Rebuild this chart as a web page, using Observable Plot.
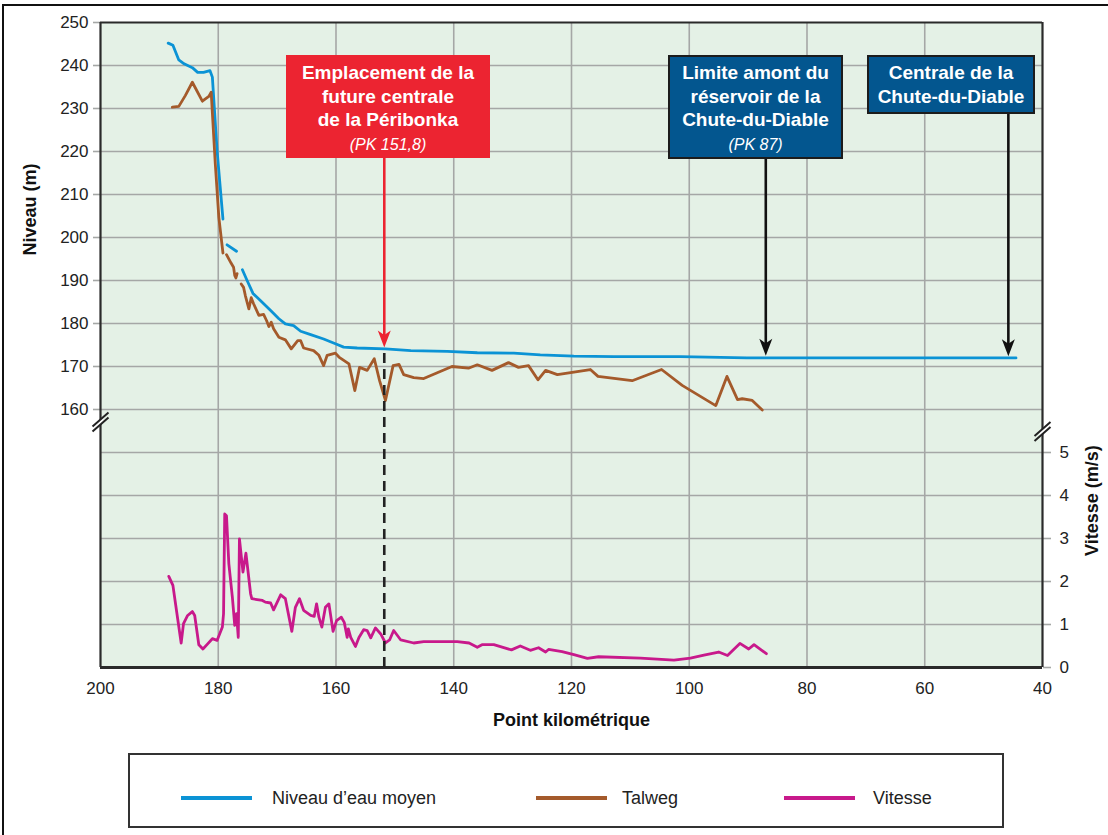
<!DOCTYPE html>
<html>
<head>
<meta charset="utf-8">
<script src="https://cdn.jsdelivr.net/npm/d3@7"></script>
<script src="https://cdn.jsdelivr.net/npm/@observablehq/plot@0.6"></script>
<style>
  html, body { margin: 0; padding: 0; background: #fff; }
  body { font-family: "Liberation Sans", Arial, sans-serif; }
  #wrap { position: relative; width: 1108px; height: 835px; overflow: hidden; }
  #outer { position: absolute; left: 2px; top: 4px; width: 1300px; height: 1000px;
           border-left: 2px solid #111; border-top: 2px solid #111; }
  #chart { position: absolute; left: 0; top: 0; }
  .box { position: absolute; box-sizing: border-box; color: #fff; font-weight: bold;
         font-size: 19px; line-height: 23.5px; text-align: center; padding-top: 6px; }
  .box i { font-weight: normal; font-size: 16px; }
  .red { background: #ec2431; }
  .blue { background: #03568f; border: 2px solid #1c1c1c; padding-top: 4px; }
  #legend { position: absolute; left: 128px; top: 753px; width: 876px; height: 75px;
            box-sizing: border-box; border: 2px solid #333; background: #fff; }
  .sw { position: absolute; height: 4px; top: 41px; }
  .lt { position: absolute; top: 31px; font-size: 18px; color: #222; line-height: 24px; }
</style>
</head>
<body>
<div id="wrap">
  <div id="outer"></div>
  <div id="chart"></div>
  <div class="box red" style="left:286px;top:55px;width:204px;height:103px;">Emplacement de la<br>future centrale<br>de la Péribonka<br><i>(PK 151,8)</i></div>
  <div class="box blue" style="left:668px;top:55px;width:175px;height:104px;">Limite amont du<br>réservoir de la<br>Chute-du-Diable<br><i>(PK 87)</i></div>
  <div class="box blue" style="left:867px;top:55px;width:168px;height:59px;">Centrale de la<br>Chute-du-Diable</div>
  <div id="legend">
    <div class="sw" style="left:51px;width:71px;background:#0b93d5;"></div>
    <div class="lt" style="left:142px;">Niveau d’eau moyen</div>
    <div class="sw" style="left:406px;width:71px;background:#a45a2b;"></div>
    <div class="lt" style="left:492px;">Talweg</div>
    <div class="sw" style="left:654px;width:71px;background:#c8198b;"></div>
    <div class="lt" style="left:743px;">Vitesse</div>
  </div>
</div>
<script>
// ---------- data ----------
const pkTicks = [200, 180, 160, 140, 120, 100, 80, 60, 40];
const niveauTicks = [160, 170, 180, 190, 200, 210, 220, 230, 240, 250];
const vitesseTicks = [0, 1, 2, 3, 4, 5];

// Niveau d'eau moyen (PK, m) — NaN marks a gap in the line
const niveauPK = [188.5, 187.7, 186.7, 185.8, 184.4, 183.5, 182.5, 181.4, 181.0, 180.2, 179.2,
  179.0, 178.5, 176.9,
  176.4, 175.9, 175.1, 174.1, 172.8, 171.1, 169.7, 168.6, 167.2, 166.0, 164.3, 162.1, 160.1,
  158.7, 156.4, 151.6, 147.3, 141.1, 136.0, 129.8, 125.3, 119.6, 112.8, 101.5, 90.2, 77.7, 44.5];
const niveauM = [245.2, 244.7, 241.3, 240.4, 239.5, 238.4, 238.4, 238.8, 237.3, 220.2, 204.3,
  NaN, 198.3, 196.8,
  NaN, 192.5, 190.0, 187.0, 185.3, 183.0, 181.1, 179.9, 179.5, 178.2, 177.4, 176.4, 175.3,
  174.5, 174.3, 174.1, 173.7, 173.5, 173.2, 173.1, 172.7, 172.4, 172.3, 172.3, 172.0, 172.0, 172.0];

// Talweg (PK, m)
const talwegPK = [187.8, 186.7, 185.6, 184.4, 182.7, 181.6, 181.2, 180.5, 179.9, 179.2,
  178.9, 178.6, 177.8, 177.4, 177.2, 177.0, 176.8,
  176.5, 176.1, 175.7, 175.4, 174.8, 174.4, 174.0, 173.1, 172.3, 171.8, 171.4, 171.0, 170.6,
  169.7, 168.6, 167.6, 166.5, 166.0, 165.5, 163.8, 162.9, 162.1, 161.5, 160.1, 159.5, 157.8,
  156.8, 156.0, 154.7, 153.5, 152.6, 151.6, 150.3, 149.3, 148.5, 146.8, 145.1, 140.3, 137.5,
  136.0, 133.5, 130.7, 129.0, 127.3, 125.7, 124.4, 122.4, 116.8, 115.5, 109.7, 104.7, 101.2,
  95.5, 93.6, 91.8, 91.0, 89.3, 87.6];
const talwegM = [230.3, 230.5, 233.0, 236.1, 231.7, 232.8, 233.8, 217.1, 204.7, 196.4,
  NaN, 196.0, 194.0, 193.1, 191.2, 190.6, 191.6,
  NaN, 189.2, 188.4, 186.5, 183.4, 186.0, 184.6, 181.9, 182.1, 180.7, 179.3, 180.3, 178.8,
  176.8, 176.2, 174.1, 176.0, 176.0, 174.3, 173.7, 172.6, 170.2, 172.6, 173.1, 172.2, 170.6,
  164.4, 169.8, 169.1, 171.8, 166.7, 162.1, 170.2, 170.5, 168.1, 167.4, 167.2, 170.0, 169.6,
  170.4, 169.1, 170.9, 169.8, 170.2, 166.9, 169.1, 168.1, 169.3, 167.7, 166.7, 169.3, 165.6,
  160.9, 167.7, 162.3, 162.5, 162.1, 159.9];

// Vitesse (PK, m/s)
const vitessePK = [188.4, 187.7, 187.1, 186.3, 185.9, 185.2, 184.4, 184.0, 183.3, 182.6, 181.8,
  181.0, 180.2, 179.3, 179.1, 178.9, 178.6, 178.2, 177.6, 177.2, 176.9, 176.6, 176.4, 175.8,
  175.3, 174.5, 174.3, 173.4, 172.5, 172.0, 171.1, 170.6, 169.4, 168.6, 167.5, 166.9, 166.2,
  165.5, 164.3, 163.7, 163.3, 162.9, 162.4, 161.8, 161.2, 160.5, 159.9, 159.1, 158.6, 158.1,
  157.9, 157.5, 156.7, 156.1, 155.3, 154.7, 154.1, 153.3, 152.4, 151.6, 150.9, 150.2, 149.0,
  146.8, 145.1, 141.1, 139.4, 137.4, 136.0, 135.2, 133.2, 130.2, 128.7, 127.0, 125.6, 124.4,
  123.9, 121.6, 119.6, 117.3, 115.4, 108.3, 102.6, 99.8, 97.5, 95.0, 93.5, 91.4, 89.9, 89.0, 86.9];
const vitesseMS = [2.12, 1.91, 1.33, 0.57, 1.02, 1.21, 1.30, 1.21, 0.53, 0.43, 0.55,
  0.67, 0.63, 0.94, 1.25, 3.57, 3.53, 2.41, 1.63, 0.98, 1.25, 0.70, 2.99, 2.22,
  2.66, 1.71, 1.60, 1.58, 1.56, 1.52, 1.50, 1.34, 1.69, 1.60, 0.84, 1.40, 1.60,
  1.33, 1.21, 1.19, 1.48, 1.17, 0.94, 1.40, 1.48, 0.84, 1.09, 1.17, 1.05, 0.70,
  0.90, 0.70, 0.49, 0.70, 0.88, 0.86, 0.69, 0.92, 0.78, 0.57, 0.64, 0.86, 0.64,
  0.57, 0.60, 0.60, 0.60, 0.57, 0.47, 0.53, 0.53, 0.41, 0.50, 0.40, 0.46, 0.36,
  0.42, 0.37, 0.30, 0.21, 0.25, 0.22, 0.17, 0.22, 0.29, 0.36, 0.28, 0.56, 0.43, 0.53, 0.32];

// Annotated points (PK)
const pkPeribonka = 151.8;
const pkLimiteAmont = 87;
const pkCentrale = 45.8;

// ---------- layout / style ----------
const W = 1108, H = 740;
const mL = 100, mR = 66, mT = 22, mB = 73;
const BG = "#e4f1e6", GRID = "#a5a7a6", FRAME = "#2a2a2a";
const BLUE = "#0b93d5", BROWN = "#a45a2b", MAGENTA = "#c8198b", RED = "#ec2431";
const FONT = "'Liberation Sans', Arial, Helvetica, sans-serif";

// Broken axis: velocity v is drawn at level VBASE + VSCALE * v on the shared vertical scale
const VBASE = 100, VSCALE = 10;
const toLevel = v => VBASE + VSCALE * v;
const yScale = Plot.scale({y: {domain: [VBASE, 250], range: [H - mB, mT]}});

const idx = arr => arr.map((_, i) => i);

const arrowHead = {draw(ctx) {
  ctx.moveTo(0, 0); ctx.lineTo(-6.5, -17); ctx.lineTo(0, -12.5); ctx.lineTo(6.5, -17); ctx.closePath();
}};
const breakGap = {draw(ctx) {
  ctx.moveTo(-3, 0.6); ctx.lineTo(3, -4.6); ctx.lineTo(3, 0.4); ctx.lineTo(-3, 5.6); ctx.closePath();
}};
const breakLines = {draw(ctx) {
  ctx.moveTo(-8, 5); ctx.lineTo(8, -9); ctx.moveTo(-8, 10); ctx.lineTo(8, -4);
}};

const boxBottom1 = yScale.invert(158);   // bottom of 4-line boxes
const boxBottom2 = yScale.invert(113);   // bottom of 2-line box
const breaks = [{x: 200, y: 157.2}, {x: 40, y: 155.0}];

const arrows = [
  {x: pkPeribonka, y1: boxBottom1, tip: 174.4, color: RED},
  {x: pkLimiteAmont, y1: boxBottom1, tip: 172.5, color: "#111"},
  {x: pkCentrale, y1: boxBottom2, tip: 172.4, color: "#111"}
];

const chart = Plot.plot({
  width: W, height: H,
  marginLeft: mL, marginRight: mR, marginTop: mT, marginBottom: mB,
  x: {domain: [200, 40]},
  y: {domain: [VBASE, 250]},
  style: {fontFamily: FONT, background: "transparent", overflow: "visible", color: "#222"},
  marks: [
    Plot.frame({fill: BG, stroke: "none"}),
    // grid
    Plot.ruleY(d3.range(VBASE + 10, 250, 10), {stroke: GRID, strokeWidth: 1.6}),
    Plot.ruleX(pkTicks.slice(1, -1), {stroke: GRID, strokeWidth: 1.6}),
    // axes
    Plot.axisX({ticks: pkTicks, tickSize: 0, tickPadding: 14, fontSize: 17, label: null, fill: "#222"}),
    Plot.axisY({ticks: niveauTicks, anchor: "left", tickSize: 7, tickPadding: 5, fontSize: 17,
      stroke: GRID, strokeWidth: 1.6, fill: "#222", label: null}),
    Plot.axisY({ticks: vitesseTicks.map(toLevel), anchor: "right", tickSize: 8, tickPadding: 9,
      fontSize: 17, stroke: GRID, strokeWidth: 1.6, fill: "#222", label: null,
      tickFormat: d => String(Math.round((d - VBASE) / VSCALE))}),
    // frame
    Plot.ruleX([200, 40], {y1: VBASE, y2: 250, stroke: FRAME, strokeWidth: 2.2}),
    Plot.ruleY([250], {x1: 200, x2: 40, stroke: FRAME, strokeWidth: 2.2}),
    Plot.ruleY([VBASE], {x1: 200, x2: 40, stroke: FRAME, strokeWidth: 2.8}),
    // series
    Plot.line(idx(niveauPK), {x: i => niveauPK[i], y: i => niveauM[i], stroke: BLUE, strokeWidth: 2.8,
      strokeLinejoin: "round"}),
    Plot.line(idx(talwegPK), {x: i => talwegPK[i], y: i => talwegM[i], stroke: BROWN, strokeWidth: 2.8,
      strokeLinejoin: "round"}),
    Plot.line(idx(vitessePK), {x: i => vitessePK[i], y: i => toLevel(vitesseMS[i]), stroke: MAGENTA,
      strokeWidth: 2.8, strokeLinejoin: "round"}),
    // dashed marker line at future power plant
    Plot.ruleX([pkPeribonka], {y1: VBASE, y2: 173.6, stroke: "#222", strokeWidth: 2.6, strokeDasharray: "10,6"}),
    // annotation arrows
    Plot.ruleX(arrows, {x: "x", y1: "y1", y2: d => d.tip + 2, stroke: d => d.color, strokeWidth: 2.6}),
    Plot.dot(arrows, {x: "x", y: "tip", symbol: arrowHead, fill: d => d.color, stroke: "none"}),
    // axis breaks
    Plot.dot(breaks, {x: "x", y: "y", symbol: breakGap, fill: "#fff", stroke: "none"}),
    Plot.dot(breaks, {x: "x", y: "y", symbol: breakLines, fill: "none", stroke: "#222", strokeWidth: 2}),
    // axis titles
    Plot.text(["Point kilométrique"], {frameAnchor: "bottom", dy: 58, fontSize: 18, fontWeight: "bold", fill: "#111"}),
    Plot.text(["Niveau (m)"], {x: [200], y: [206.5], dx: -70, rotate: -90, fontSize: 18, fontWeight: "bold", fill: "#111"}),
    Plot.text(["Vitesse (m/s)"], {x: [40], y: [138.8], dx: 50, rotate: -90, fontSize: 18, fontWeight: "bold", fill: "#111"})
  ]
});
chart.style.background = "transparent";
document.getElementById("chart").appendChild(chart);
</script>
</body>
</html>
